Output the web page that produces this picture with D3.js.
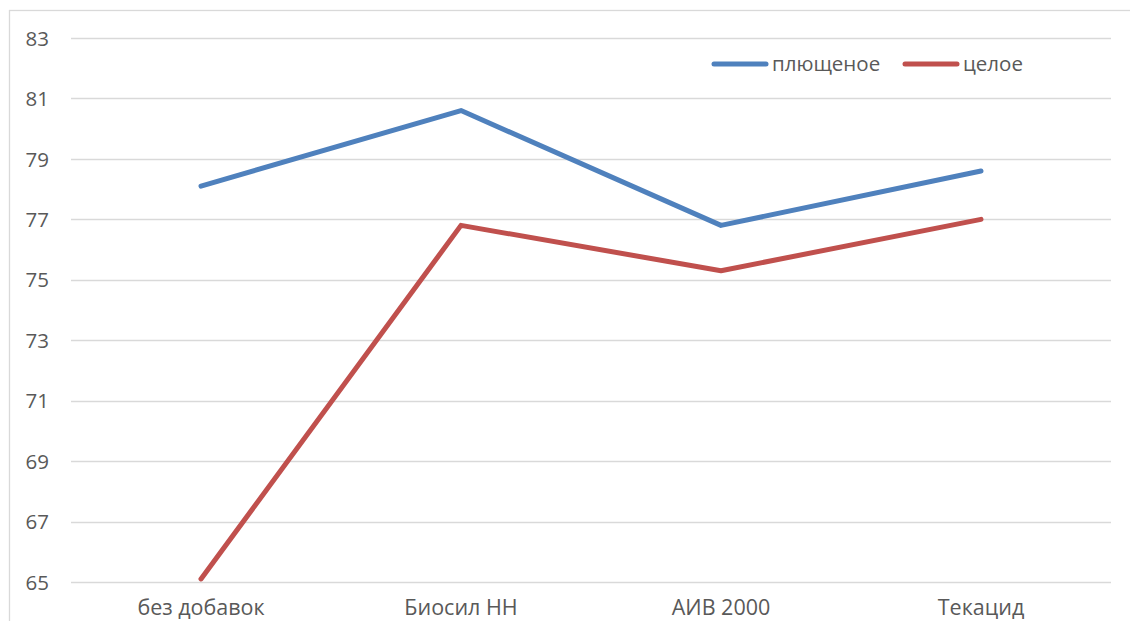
<!DOCTYPE html>
<html><head><meta charset="utf-8">
<script src="https://cdn.jsdelivr.net/npm/d3@7"></script>
<style>body{margin:0;background:#fff}svg{display:block}text{font-family:"Open Sans",sans-serif;fill:#595959}</style>
</head><body>
<svg id="c" width="1130" height="621"></svg>
<script>
const categories = ["без добавок", "Биосил НН", "АИВ 2000", "Текацид"];
const flattened = [78.1, 80.6, 76.8, 78.6];
const whole = [65.1, 76.8, 75.3, 77.0];
const seriesNames = ["плющеное", "целое"];
const yTicks = [65, 67, 69, 71, 73, 75, 77, 79, 81, 83];

const svg = d3.select("#c");
svg.append("rect").attr("x", 9.5).attr("y", 10.5).attr("width", 1130).attr("height", 640)
  .attr("fill", "none").attr("stroke", "#d9d9d9").attr("stroke-width", 1.3);

const x = d3.scaleBand().domain(categories).range([71, 1111]);
const y = d3.scaleLinear().domain([65, 83]).range([582, 38]);

const grid = svg.append("g");
grid.selectAll("line").data(yTicks).join("line")
  .attr("x1", 71).attr("x2", 1111)
  .attr("y1", d => Math.round(y(d)) + 0.5).attr("y2", d => Math.round(y(d)) + 0.5)
  .attr("stroke", "#d9d9d9").attr("stroke-width", 1.3);

const yAxis = d3.axisLeft(y).tickValues(yTicks).tickSize(0).tickPadding(0);
const ya = svg.append("g").attr("transform", "translate(49,0)").call(yAxis);
ya.select(".domain").remove();
ya.selectAll("text").attr("font-size", 20.5).attr("fill", "#595959").attr("dy", "0.35em")
  .style("font-family", '"Open Sans",sans-serif');

const xAxis = d3.axisBottom(x).tickSize(0).tickPadding(0);
const xa = svg.append("g").attr("transform", "translate(0,615)").call(xAxis);
xa.select(".domain").remove();
xa.selectAll("text").attr("font-size", 21.5).attr("fill", "#595959").attr("dy", 0).attr("y", 0)
  .style("font-family", '"Open Sans",sans-serif');

const line = d3.line().x((d, i) => x(categories[i]) + x.bandwidth() / 2).y(d => y(d));
const colors = ["#4f81bd", "#c0504d"];
[flattened, whole].forEach((s, k) => {
  svg.append("path").datum(s).attr("d", line).attr("fill", "none")
    .attr("stroke", colors[k]).attr("stroke-width", 5).attr("stroke-linecap", "round").attr("stroke-linejoin", "round");
});

const legendX = [714, 905];
seriesNames.forEach((n, k) => {
  const g = svg.append("g").attr("transform", `translate(${legendX[k]},64)`);
  g.append("line").attr("x1", 0).attr("x2", 52).attr("y1", 0).attr("y2", 0)
    .attr("stroke", colors[k]).attr("stroke-width", 5).attr("stroke-linecap", "round");
  g.append("text").attr("x", 58).attr("y", 0).attr("dy", "0.35em").attr("font-size", 20.5).text(n);
});
</script>
</body></html>
